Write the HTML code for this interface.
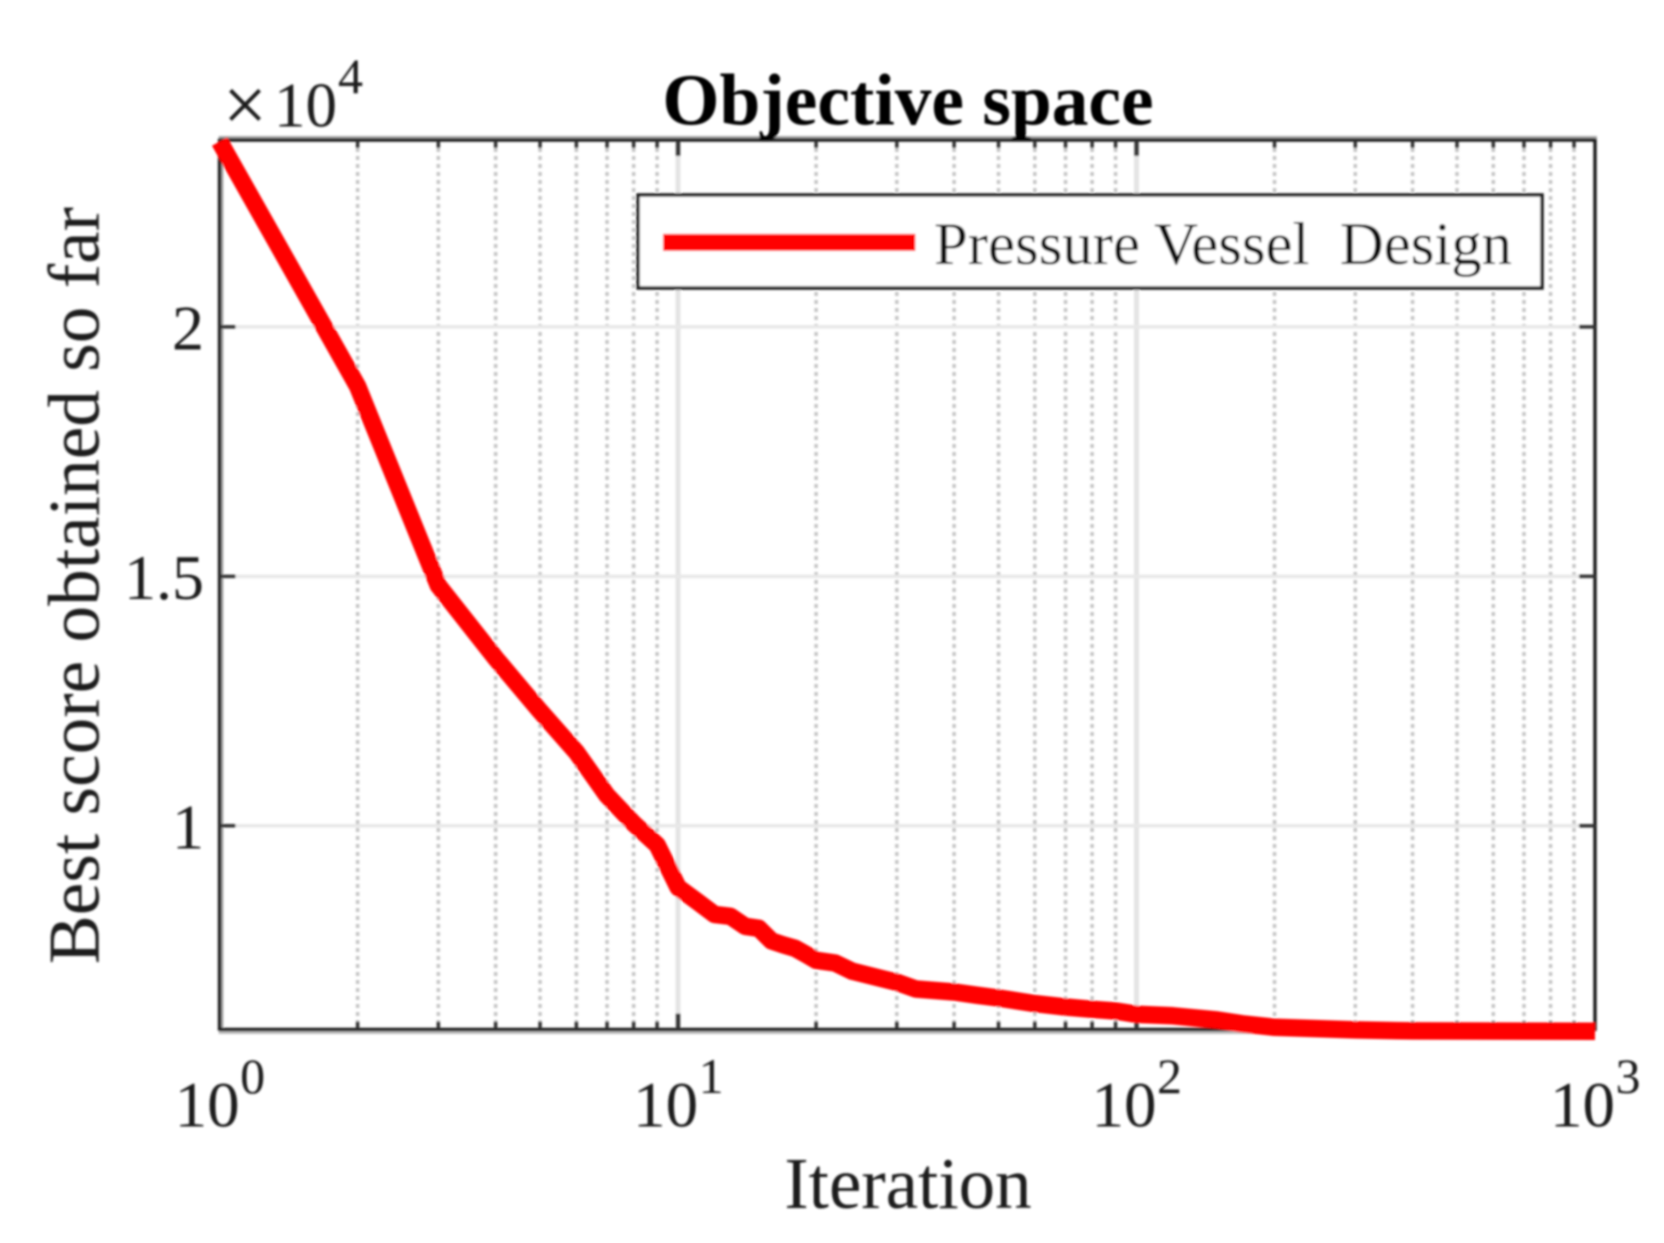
<!DOCTYPE html>
<html lang="en">
<head>
<meta charset="utf-8">
<title>Objective space</title>
<style>
  html, body { margin: 0; padding: 0; background: #fff; }
  svg { display: block; }
  text { font-family: "Liberation Serif", serif; fill: #1c1c1c; }
</style>
</head>
<body>
<svg id="chart" xmlns="http://www.w3.org/2000/svg" width="1664" height="1243" viewBox="0 0 1664 1243">
  <defs>
    <filter id="soft" x="0" y="0" width="100%" height="100%" filterUnits="userSpaceOnUse" primitiveUnits="userSpaceOnUse">
      <feGaussianBlur stdDeviation="1"/>
    </filter>
  </defs>
  <rect x="0" y="0" width="1664" height="1243" fill="#ffffff"/>
  <g id="root" filter="url(#soft)"></g>
</svg>
<script>
const iterations = [1,2,3,4,5,6,7,8,9,10,11,12,13,14,15,16,17,18,19,20,22,24,30,33,40,45,50,60,70,80,90,100,120,130,150,170,200,300,400,1000];
const bestScores = [2.3716,1.881,1.4816,1.336,1.2298,1.1476,1.061,1.0048,0.9617,0.8766,0.8486,0.8225,0.8185,0.7985,0.7945,0.769,0.761,0.7544,0.7424,0.7304,0.725,0.7084,0.6863,0.6729,0.6669,0.6603,0.6548,0.6436,0.6368,0.6322,0.6288,0.6222,0.6192,0.6162,0.6108,0.6032,0.5962,0.5908,0.5888,0.5881];
const xDecadeExponents = [0,1,2,3];
const xMinorMultipliers = [2,3,4,5,6,7,8,9];
const yTickValues = [1,1.5,2];
const yTickLabels = ['1','1.5','2'];
const seriesName = 'Pressure Vessel  Design';

const NS = 'http://www.w3.org/2000/svg';
const root = document.getElementById('root');
const LEFT = 219.6, RIGHT = 1595, TOP = 140, BOTTOM = 1029.5;
const X_MIN_LOG = 0, X_MAX_LOG = 3, Y_MIN = 0.5917, Y_MAX = 2.3746;

function xScale(v) { return LEFT + (Math.log10(v) - X_MIN_LOG) / (X_MAX_LOG - X_MIN_LOG) * (RIGHT - LEFT); }
function yScale(v) { return BOTTOM - (v - Y_MIN) / (Y_MAX - Y_MIN) * (BOTTOM - TOP); }

function seg(x1, y1, x2, y2, stroke, width, dash) {
  const l = document.createElementNS(NS, 'line');
  l.setAttribute('x1', x1); l.setAttribute('y1', y1);
  l.setAttribute('x2', x2); l.setAttribute('y2', y2);
  l.setAttribute('stroke', stroke); l.setAttribute('stroke-width', width);
  if (dash) l.setAttribute('stroke-dasharray', dash);
  root.appendChild(l);
  return l;
}
function label(str, x, y, size, anchor, weight) {
  const t = document.createElementNS(NS, 'text');
  t.setAttribute('x', x); t.setAttribute('y', y);
  t.setAttribute('font-size', size);
  if (anchor) t.setAttribute('text-anchor', anchor);
  if (weight) t.setAttribute('font-weight', weight);
  t.setAttribute('xml:space', 'preserve');
  t.style.whiteSpace = 'pre';
  t.textContent = str;
  root.appendChild(t);
  return t;
}

/* minor vertical grid */
xDecadeExponents.slice(0, -1).forEach(function (e) {
  xMinorMultipliers.forEach(function (m) {
    const x = xScale(m * Math.pow(10, e));
    const g = seg(x, TOP, x, BOTTOM, '#c4c4c4', 3.5, '4 4');
    
    
  });
});
/* major grid */
xDecadeExponents.slice(1, -1).forEach(function (e) {
  const x = xScale(Math.pow(10, e));
  const g = seg(x, TOP, x, BOTTOM, '#e4e4e4', 5);
  
  
});
yTickValues.forEach(function (v) {
  const y = yScale(v);
  const g = seg(LEFT, y, RIGHT, y, '#e8e8e8', 3.5);
  
  
});

/* frame */
[[LEFT - 1, 137.5, RIGHT + 2, 137.5, '#a8a8a8', 3],
 [LEFT + 2.6, TOP, LEFT + 2.6, BOTTOM, '#a8a8a8', 2.5],
 [LEFT - 1, BOTTOM + 3, RIGHT, BOTTOM + 3, '#bdbdbd', 3]].forEach(function (s) {
  const g = seg(s[0], s[1], s[2], s[3], s[4], s[5]);
  
  
});
[[LEFT, TOP - 1.5, LEFT, BOTTOM + 1.5],
 [RIGHT, TOP - 1.5, RIGHT, BOTTOM + 1.5],
 [LEFT, TOP, RIGHT, TOP],
 [LEFT, BOTTOM, RIGHT, BOTTOM]].forEach(function (s) {
  const g = seg(s[0], s[1], s[2], s[3], '#1f1f1f', 3.5);
  
  
});

/* ticks */
xDecadeExponents.slice(0, -1).forEach(function (e) {
  xMinorMultipliers.forEach(function (m) {
    const x = xScale(m * Math.pow(10, e));
    const a = seg(x, TOP, x, TOP + 8, '#333333', 3.5);
    
    
    const b = seg(x, BOTTOM - 8, x, BOTTOM, '#333333', 3.5);
    
    
  });
});
xDecadeExponents.slice(1, -1).forEach(function (e) {
  const x = xScale(Math.pow(10, e));
  const a = seg(x, TOP, x, TOP + 16, '#333333', 4.5);
  
  
  const b = seg(x, BOTTOM - 16, x, BOTTOM, '#333333', 4.5);
  
  
});
yTickValues.forEach(function (v) {
  const y = yScale(v);
  const a = seg(LEFT, y, LEFT + 16, y, '#333333', 3.5);
  
  
  const b = seg(RIGHT - 16, y, RIGHT, y, '#333333', 3.5);
  
  
});

/* series */
const curve = document.createElementNS(NS, 'polyline');
curve.setAttribute('points', iterations.map(function (it, i) {
  return xScale(it).toFixed(1) + ',' + yScale(bestScores[i]).toFixed(1);
}).join(' '));
curve.setAttribute('fill', 'none');
curve.setAttribute('stroke', '#ff0000');
curve.setAttribute('stroke-width', '17.5');
curve.setAttribute('stroke-linejoin', 'round');
curve.setAttribute('stroke-linecap', 'butt');


root.appendChild(curve);

/* legend */
const legendBox = document.createElementNS(NS, 'rect');
legendBox.setAttribute('x', 638);
legendBox.setAttribute('y', 195);
legendBox.setAttribute('width', 904);
legendBox.setAttribute('height', 93);
legendBox.setAttribute('fill', '#ffffff');
legendBox.setAttribute('stroke', '#1f1f1f');
legendBox.setAttribute('stroke-width', '3.5');


root.appendChild(legendBox);
const legendLine = seg(663, 242.4, 915.3, 242.4, '#ff0000', 17);


const legendText = label(seriesName, 934, 264, 60.8);
legendText.style.fill = '#0a0a0a';



/* tick labels */
xDecadeExponents.forEach(function (e) {
  const x = xScale(Math.pow(10, e));
  const base = label('10', x - 45, 1126.5, 65);
  
  
  const sup = label(String(e), x + 20.5, 1093, 50);
  
  
});
yTickValues.forEach(function (v, i) {
  const t = label(yTickLabels[i], 204, yScale(v) + 22.6, 64, 'end');
  
  
});

/* titles */
const title = label('Objective space', 908, 124.5, 73.4, 'middle', 'bold');
title.style.fill = '#000000';


const xTitle = label('Iteration', 908, 1208, 73, 'middle');


const yTitle = label('Best score obtained so far', 0, 0, 73.3, 'middle');
yTitle.setAttribute('transform', 'translate(98.7,585.5) rotate(-90)');


const mult = label('\u00d7', 223, 131, 78);


const multBase = label('10', 274, 126.5, 63);


const multExp = label('4', 338, 93, 50);


</script>
</body>
</html>
